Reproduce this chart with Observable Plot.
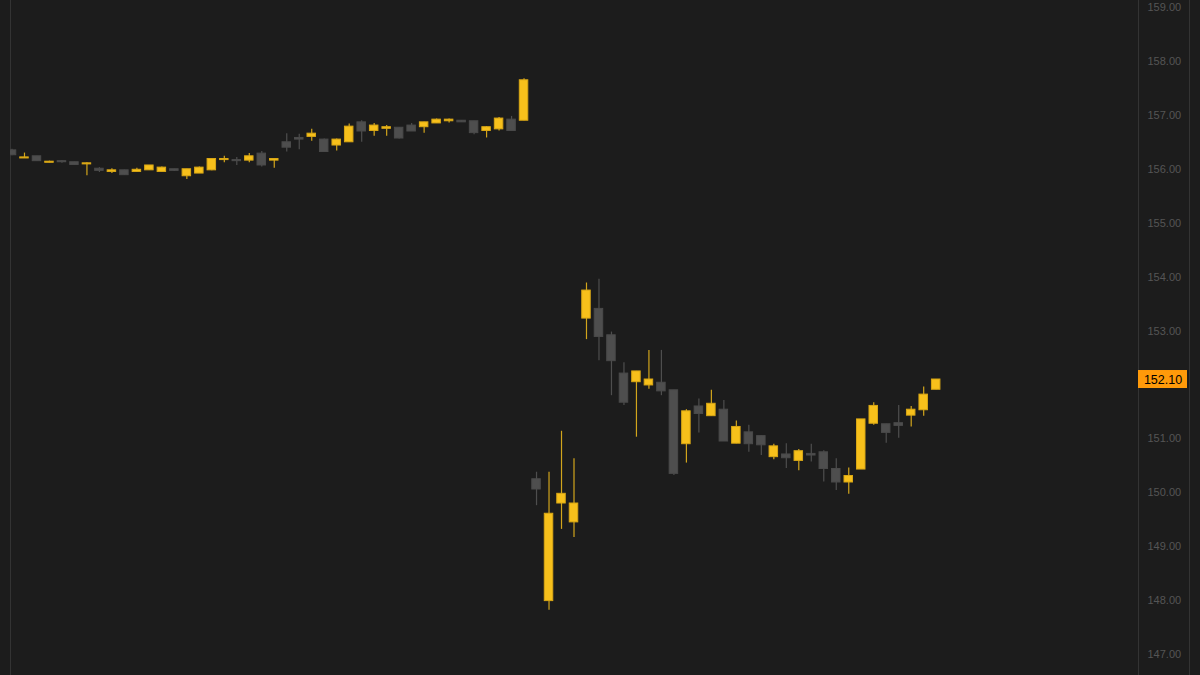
<!DOCTYPE html>
<html><head><meta charset="utf-8">
<script src="https://cdn.jsdelivr.net/npm/d3@7"></script>
<script src="https://cdn.jsdelivr.net/npm/@observablehq/plot@0.6"></script>
<style>html,body{margin:0;padding:0;background:#1c1c1c;overflow:hidden}</style>
</head><body><div id="chart"></div>
<script>
const open = [156.35,156.20,156.24,156.12,156.15,156.13,156.09,156.01,155.95,155.98,155.95,155.98,155.95,156.00,155.87,155.92,155.98,156.17,156.17,156.16,156.29,156.16,156.50,156.58,156.60,156.55,156.44,156.50,156.87,156.71,156.75,156.77,156.81,156.78,156.85,156.89,156.90,156.89,156.71,156.74,156.92,156.90,
150.25,147.99,149.80,149.45,153.23,153.41,152.92,152.21,152.05,151.99,152.04,151.90,150.90,151.60,151.42,151.54,150.91,151.12,151.05,150.66,150.71,150.59,150.72,150.75,150.44,150.19,150.43,151.28,151.27,151.29,151.43,151.53,151.91];
const high = [156.37,156.30,156.24,156.15,156.16,156.13,156.12,156.03,156.01,155.98,156.02,156.07,156.04,156.00,156.00,156.04,156.20,156.24,156.22,156.29,156.33,156.20,156.66,156.65,156.74,156.56,156.56,156.84,156.90,156.85,156.81,156.77,156.85,156.87,156.93,156.93,156.90,156.89,156.79,156.96,156.98,157.68,
150.38,150.38,151.14,150.63,153.89,153.96,152.98,152.41,152.25,152.64,152.64,151.90,151.54,151.74,151.90,151.71,151.33,151.25,151.05,150.90,150.91,150.80,150.90,150.78,150.63,150.46,151.36,151.67,151.27,151.62,151.60,151.96,152.10];
const low = [156.25,156.20,156.15,156.12,156.11,156.08,155.88,155.94,155.92,155.89,155.95,155.98,155.95,155.96,155.81,155.92,155.97,156.12,156.07,156.12,156.04,156.02,156.32,156.36,156.52,156.31,156.34,156.50,156.50,156.61,156.61,156.56,156.70,156.67,156.85,156.86,156.87,156.64,156.58,156.71,156.71,156.90,
149.76,147.82,149.32,149.17,152.84,152.45,151.80,151.62,151.03,151.92,151.80,150.32,150.55,151.11,151.42,150.95,150.91,150.75,150.69,150.61,150.45,150.41,150.57,150.20,150.04,149.97,150.43,151.25,150.92,151.01,151.22,151.42,151.91];
const close = [156.26,156.22,156.15,156.14,156.13,156.08,156.11,155.97,155.98,155.89,155.99,156.07,156.03,155.97,156.00,156.03,156.19,156.19,156.15,156.24,156.07,156.19,156.40,156.55,156.66,156.32,156.55,156.79,156.70,156.81,156.78,156.57,156.70,156.87,156.92,156.92,156.87,156.67,156.78,156.94,156.71,157.65,
150.06,149.61,149.98,149.80,153.75,152.89,152.44,151.67,152.25,152.10,151.88,150.35,151.51,151.46,151.65,150.95,151.22,150.90,150.88,150.86,150.64,150.77,150.69,150.44,150.19,150.31,151.36,151.61,151.11,151.24,151.54,151.82,152.10];
// 152.00 is hidden behind the last-price label in the reference
const yTicks = [147,148,149,150,151,153,154,155,156,157,158,159];
const lastClose = close[close.length - 1];

const candles = open.map((o, i) => ({i, open: o, high: high[i], low: low[i], close: close[i], up: close[i] >= o}));

const UP_FILL = "#f7c01b", UP_STROKE = "#d9a715", UP_WICK = "#d2a51c";
const DN_FILL = "#4e4e4e", DN_STROKE = "#4a4a4a", DN_WICK = "#4e4e4e";
const xDomain = [-0.12, 90.2];

// box behind the last price and the far-right border line
const lastPriceBox = (index, scales, values, dims) => {
  const g = d3.create("svg:g");
  const x0 = dims.width - dims.marginRight;
  const y = scales.y(lastClose);
  g.append("line").attr("x1", x0 + 51.5).attr("x2", x0 + 51.5).attr("y1", 0).attr("y2", dims.height)
    .style("stroke", "#333");
  g.append("rect").attr("x", x0).attr("y", y - 9).attr("width", 49).attr("height", 18).style("fill", "#ff9a0a");
  return g.node();
};

const chart = Plot.plot({
  width: 1200, height: 675,
  marginLeft: 10, marginRight: 62, marginTop: 0, marginBottom: 0,
  style: {background: "#1c1c1c", fontFamily: "Liberation Sans, Arial, sans-serif"},
  x: {domain: xDomain, axis: null},
  y: {domain: [146.61, 159.13]},
  color: {type: "identity"},
  marks: [
    Plot.ruleX(xDomain, {stroke: "#333"}),
    Plot.axisY({anchor: "right", ticks: yTicks, tickFormat: d3.format(".2f"), tickSize: 0, tickPadding: 9,
      fill: "#555555", fontSize: 11, label: null}),
    Plot.ruleX(candles, {x: "i", y1: "low", y2: "high", stroke: d => d.up ? UP_WICK : DN_WICK, strokeWidth: 1.2, clip: true}),
    Plot.rect(candles, {x1: d => d.i - 0.34, x2: d => d.i + 0.34, y1: "open", y2: "close",
      fill: d => d.up ? UP_FILL : DN_FILL, stroke: d => d.up ? UP_STROKE : DN_STROKE, strokeWidth: 1, clip: true}),
    lastPriceBox,
    Plot.text([lastClose], {y: d => d, frameAnchor: "right", dx: 24.5, textAnchor: "middle",
      text: d => d3.format(".2f")(d), fill: "#000000", fillOpacity: 1, stroke: "none", fontSize: 12.5})
  ]
});
document.getElementById("chart").append(chart);
</script></body></html>
